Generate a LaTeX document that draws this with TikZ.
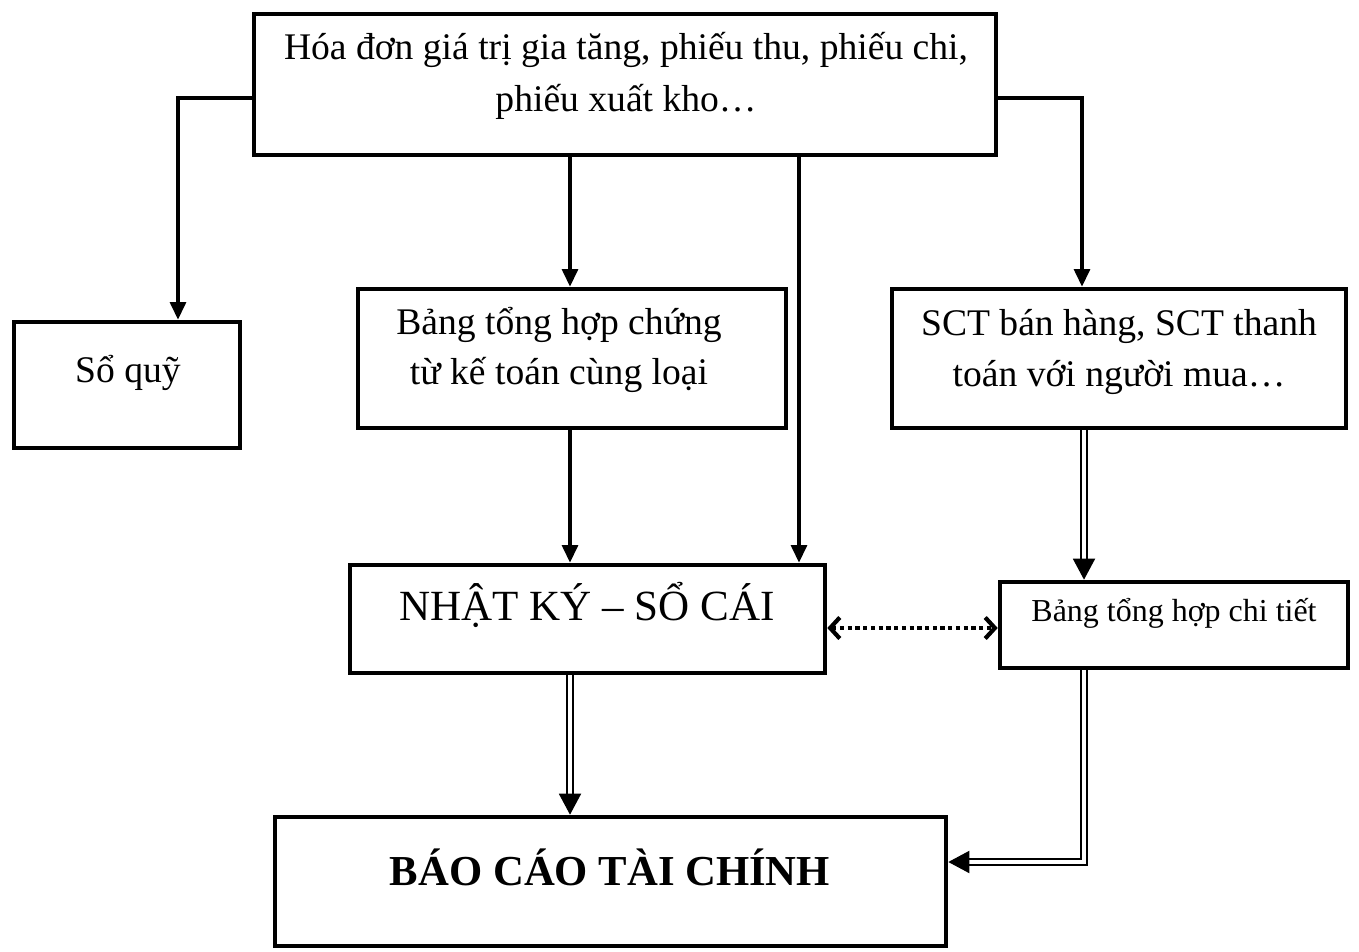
\documentclass[tikz,border=0pt]{standalone}
\usepackage{fontspec}
\setmainfont{Liberation Serif}
\usetikzlibrary{arrows.meta}
\begin{document}
\begin{tikzpicture}[x=0.02cm,y=-0.02cm,
  box/.style={draw,line width=2.6pt,inner sep=0pt},
  txt/.style={align=center,inner sep=0pt},
  arr/.style={line width=1.9pt,-{Triangle[length=10pt,width=9pt]}},
  dbl/.style={double,line width=1.2pt,double distance=1.8pt,-{Triangle[length=12pt,width=12.5pt]}},
  dots/.style={line width=2.4pt,dotted,{Straight Barb[length=5.5pt,width=12pt]}-{Straight Barb[length=5.5pt,width=12pt]}}]
\useasboundingbox (0,0) rectangle (1359,952);
% boxes
\node[box,minimum width=742*0.02cm,minimum height=141*0.02cm] (top) at (625,84.5) {};
\node[box,minimum width=226*0.02cm,minimum height=126*0.02cm] (soquy) at (127,385) {};
\node[box,minimum width=428*0.02cm,minimum height=139*0.02cm] (bang) at (572,358.5) {};
\node[box,minimum width=454*0.02cm,minimum height=139*0.02cm] (sct) at (1119,358.5) {};
\node[box,minimum width=475*0.02cm,minimum height=108*0.02cm] (nk) at (587.5,619) {};
\node[box,minimum width=348*0.02cm,minimum height=86*0.02cm] (ct) at (1174,625) {};
\node[box,minimum width=671*0.02cm,minimum height=129*0.02cm] (bc) at (610.5,881.5) {};
% texts
\node[txt,font=\fontsize{21.4pt}{30pt}\selectfont] (ttop) at (626,76) {Hóa đơn giá trị gia tăng, phiếu thu, phiếu chi,\\phiếu xuất kho…};
\node[txt,font=\fontsize{21.4pt}{28.5pt}\selectfont] (tsq) at (128,373) {Sổ quỹ};
\node[txt,font=\fontsize{21.4pt}{28.5pt}\selectfont] (tbang) at (559,350) {Bảng tổng hợp chứng\\từ kế toán cùng loại};
\node[txt,font=\fontsize{21.4pt}{29pt}\selectfont] (tsct) at (1119,352) {SCT bán hàng, SCT thanh\\toán với người mua…};
\node[txt,font=\fontsize{24.5pt}{28pt}\selectfont] (tnk) at (587,605) {NHẬT KÝ – SỔ CÁI};
\node[txt,font=\fontsize{18.2pt}{22pt}\selectfont] (tct) at (1174,613) {Bảng tổng hợp chi tiết};
\node[txt,font=\bfseries\fontsize{24.3pt}{28pt}\selectfont] (tbc) at (610,867) {BÁO CÁO TÀI CHÍNH};
% connector guides
\coordinate (lj) at (178,98);
\coordinate (rj) at (1082,98);
\coordinate (c1) at (570,0);
\coordinate (c2) at (799,0);
\coordinate (c3) at (1084,0);
\coordinate (dj) at (1084,862);
\coordinate (hy) at (0,628);
% connectors
\draw[arr] (top.west |- lj) -- (lj) -- (soquy.north -| lj);
\draw[arr] (top.east |- rj) -- (rj) -- (sct.north -| rj);
\draw[arr] (top.south -| c1) -- (bang.north -| c1);
\draw[arr] (top.south -| c2) -- (nk.north -| c2);
\draw[arr] (bang.south -| c1) -- (nk.north -| c1);
\draw[dbl] (sct.south -| c3) -- (ct.north -| c3);
\draw[dbl] (nk.south -| c1) -- (bc.north -| c1);
\draw[dbl] (ct.south -| c3) -- (dj) -- (bc.east |- dj);
\draw[dots] (nk.east |- hy) -- (ct.west |- hy);
\end{tikzpicture}
\end{document}
